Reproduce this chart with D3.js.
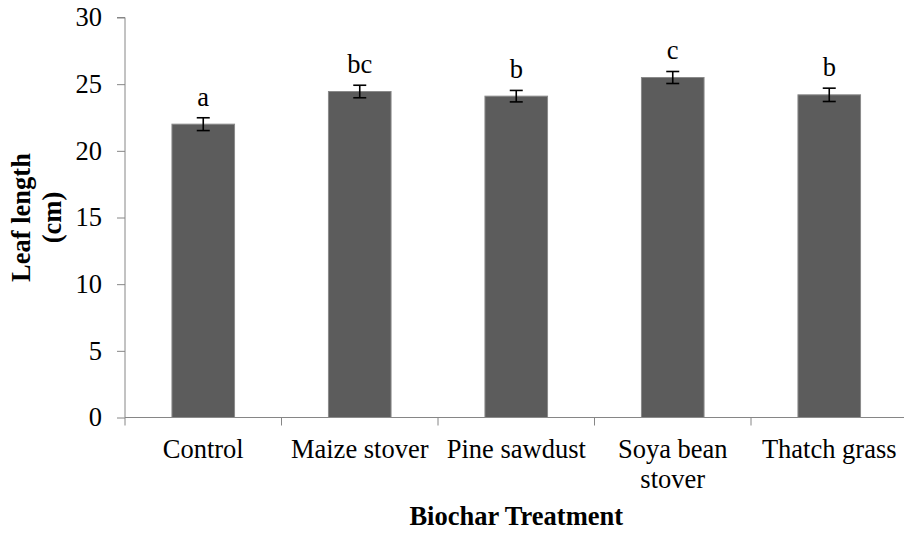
<!DOCTYPE html>
<html>
<head>
<meta charset="utf-8">
<script src="https://cdn.jsdelivr.net/npm/d3@7"></script>
<style>
  html, body { margin: 0; padding: 0; background: #fff; }
  svg { display: block; }
  text { font-family: "Liberation Serif", "Times New Roman", serif; fill: #000; }
</style>
</head>
<body>
<svg id="chart" width="904" height="533"></svg>
<script>
// Leaf length by biochar treatment (mean ± SE, letters = significance groups)
const categories = ["Control", "Maize stover", "Pine sawdust", "Soya bean stover", "Thatch grass"];
const categoryLines = [["Control"], ["Maize stover"], ["Pine sawdust"], ["Soya bean", "stover"], ["Thatch grass"]];
const leafLength = [22.0, 24.45, 24.1, 25.5, 24.2];
const stdError = [0.48, 0.47, 0.43, 0.45, 0.5];
const groupLetters = ["a", "bc", "b", "c", "b"];
const yTicks = [0, 5, 10, 15, 20, 25, 30];

const svg = d3.select("#chart");
const plotLeft = 125, plotRight = 907.5, plotTop = 17.5, plotBottom = 417.5;
const axisColor = "#868686";
const fontSize = 26.5;

const x = d3.scaleBand()
  .domain(categories)
  .range([plotLeft, plotRight])
  .paddingInner(0.6)
  .paddingOuter(0.3);

const y = d3.scaleLinear().domain([0, 30]).range([plotBottom, plotTop]);

// Y axis
const yAxis = svg.append("g")
  .attr("transform", `translate(${plotLeft},0)`)
  .call(d3.axisLeft(y).tickValues(yTicks).tickSize(8).tickPadding(15).tickFormat(d3.format("d")));
yAxis.select(".domain").attr("stroke", axisColor).attr("d", `M-8,${plotTop}H0V${plotBottom}`);
yAxis.selectAll(".tick line").attr("stroke", axisColor);
yAxis.selectAll(".tick text")
  .style("font-size", fontSize + "px")
  .style("font-family", "'Liberation Serif', 'Times New Roman', serif")
  .attr("fill", "#000");

// X axis line with ticks at category boundaries
const step = x.step();
const boundaries = d3.range(categories.length + 1).map(i => plotLeft + i * step);
svg.append("line")
  .attr("x1", plotLeft).attr("x2", plotRight)
  .attr("y1", plotBottom).attr("y2", plotBottom)
  .attr("stroke", axisColor);
svg.selectAll(".xtick").data(boundaries).join("line")
  .attr("class", "xtick")
  .attr("x1", d => d).attr("x2", d => d)
  .attr("y1", plotBottom).attr("y2", plotBottom + 8)
  .attr("stroke", axisColor);

// Bars
svg.selectAll(".bar").data(categories).join("rect")
  .attr("class", "bar")
  .attr("x", d => x(d))
  .attr("width", x.bandwidth())
  .attr("y", (d, i) => y(leafLength[i]))
  .attr("height", (d, i) => plotBottom - y(leafLength[i]))
  .attr("fill", "#5c5c5c")
  .attr("stroke", "#8a8a8a")
  .attr("stroke-width", 1);

// Error bars
const cap = 6.5;
const mid = d => x(d) + x.bandwidth() / 2;
const eb = svg.selectAll(".err").data(categories).join("g").attr("class", "err")
  .attr("stroke", "#000").attr("stroke-width", 1.6);
eb.append("line")
  .attr("x1", mid).attr("x2", mid)
  .attr("y1", (d, i) => y(leafLength[i] + stdError[i]))
  .attr("y2", (d, i) => y(leafLength[i] - stdError[i]));
eb.append("line")
  .attr("x1", d => mid(d) - cap).attr("x2", d => mid(d) + cap)
  .attr("y1", (d, i) => y(leafLength[i] + stdError[i]))
  .attr("y2", (d, i) => y(leafLength[i] + stdError[i]));
eb.append("line")
  .attr("x1", d => mid(d) - cap).attr("x2", d => mid(d) + cap)
  .attr("y1", (d, i) => y(leafLength[i] - stdError[i]))
  .attr("y2", (d, i) => y(leafLength[i] - stdError[i]));

// Significance letters
svg.selectAll(".letter").data(categories).join("text")
  .attr("class", "letter")
  .attr("x", mid)
  .attr("y", (d, i) => y(leafLength[i]) - 18.5)
  .attr("text-anchor", "middle")
  .style("font-size", fontSize + "px")
  .text((d, i) => groupLetters[i]);

// Category labels
const labels = svg.selectAll(".xlabel").data(categories).join("text")
  .attr("class", "xlabel")
  .attr("text-anchor", "middle")
  .style("font-size", fontSize + "px");
labels.each(function(d, i) {
  const t = d3.select(this);
  categoryLines[i].forEach((line, j) => {
    t.append("tspan").attr("x", mid(d)).attr("y", 458 + j * 30).text(line);
  });
});

// Axis titles
svg.append("text")
  .attr("x", (plotLeft + plotRight) / 2)
  .attr("y", 525)
  .attr("text-anchor", "middle")
  .style("font-size", fontSize + "px")
  .style("font-weight", "bold")
  .text("Biochar Treatment");

const yTitle = svg.append("text")
  .attr("transform", `translate(0,${(plotTop + plotBottom) / 2}) rotate(-90)`)
  .attr("text-anchor", "middle")
  .style("font-size", fontSize + "px")
  .style("font-weight", "bold");
yTitle.append("tspan").attr("x", 0).attr("y", 30).text("Leaf length");
yTitle.append("tspan").attr("x", 0).attr("y", 61).text("(cm)");
</script>
</body>
</html>
